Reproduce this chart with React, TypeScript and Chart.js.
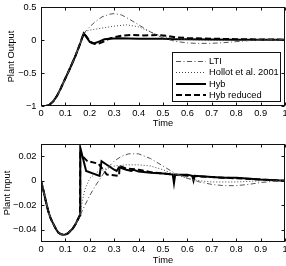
import React, { useEffect, useRef } from 'react';
import { Chart, registerables } from 'chart.js';

Chart.register(...registerables);

// ---- tick values & labels ----
const X_TICKS = [0, 0.1, 0.2, 0.3, 0.4, 0.5, 0.6, 0.7, 0.8, 0.9, 1];
const X_TICK_LABELS = ['0', '0.1', '0.2', '0.3', '0.4', '0.5', '0.6', '0.7', '0.8', '0.9', '1'];
const OUT_TICKS = [-1, -0.5, 0, 0.5];
const OUT_TICK_LABELS = ['\u22121', '\u22120.5', '0', '0.5'];
const IN_TICKS = [-0.04, -0.02, 0, 0.02];
const IN_TICK_LABELS = ['\u22120.04', '\u22120.02', '0', '0.02'];

const SERIES_NAMES = ['LTI', 'Hollot et al. 2001', 'Hyb', 'Hyb reduced'];

// ---- Plant output: shared start (all controllers identical) ----
const T_OUT_START = [0, 0.02, 0.035, 0.05, 0.065, 0.08, 0.1, 0.12, 0.14, 0.16, 0.175];
const OUT_START = [-1, -1, -0.98, -0.93, -0.85, -0.74, -0.58, -0.42, -0.25, -0.06, 0.1];

const T_OUT_LTI = [0.2, 0.22, 0.25, 0.28, 0.3, 0.33, 0.36, 0.4, 0.45, 0.5, 0.55, 0.6, 0.65, 0.7, 0.75, 0.8, 0.85, 0.9, 1];
const OUT_LTI = [0.2, 0.27, 0.35, 0.39, 0.4, 0.38, 0.32, 0.23, 0.12, 0.03, -0.02, -0.045, -0.052, -0.05, -0.04, -0.025, -0.01, 0, 0.004];

const T_OUT_HOLLOT = [0.19, 0.2, 0.25, 0.3, 0.35, 0.4, 0.45, 0.5, 0.55, 0.6, 0.7, 0.8, 0.9, 1];
const OUT_HOLLOT = [0.14, 0.15, 0.18, 0.21, 0.23, 0.2, 0.12, 0.05, 0.02, 0.005, -0.008, -0.008, 0, 0];

const T_OUT_HYB = [0.185, 0.2, 0.21, 0.22, 0.24, 0.26, 0.28, 0.32, 0.4, 0.5, 0.55, 0.6, 0.7, 0.8, 0.9, 1];
const OUT_HYB = [0.05, -0.03, -0.05, -0.05, -0.02, 0.01, 0.02, 0.025, 0.02, 0.02, 0.012, 0.01, 0.008, 0.005, 0.003, 0.002];

const T_OUT_HYBRED = [0.185, 0.2, 0.22, 0.24, 0.26, 0.28, 0.3, 0.33, 0.37, 0.42, 0.48, 0.52, 0.55, 0.6, 0.7, 0.8, 0.9, 1];
const OUT_HYBRED = [0.06, -0.02, -0.06, -0.05, -0.02, 0.02, 0.04, 0.065, 0.075, 0.07, 0.075, 0.06, 0.04, 0.03, 0.02, 0.012, 0.008, 0.005];

// ---- Plant input: shared start ----
const T_IN_START = [0, 0.01, 0.02, 0.03, 0.04, 0.05, 0.06, 0.07, 0.08, 0.09, 0.1, 0.11, 0.12, 0.13, 0.14, 0.15, 0.16];
const IN_START = [0, -0.008, -0.017, -0.025, -0.031, -0.035, -0.039, -0.042, -0.0435, -0.044, -0.0438, -0.043, -0.041, -0.039, -0.036, -0.032, -0.028];

const T_IN_LTI = [0.18, 0.2, 0.22, 0.24, 0.26, 0.28, 0.3, 0.33, 0.36, 0.4, 0.45, 0.5, 0.55, 0.6, 0.65, 0.7, 0.75, 0.8, 0.85, 0.9, 0.95, 1];
const IN_LTI = [-0.02, -0.012, -0.005, 0.001, 0.007, 0.012, 0.016, 0.02, 0.022, 0.022, 0.018, 0.012, 0.006, 0.002, -0.001, -0.003, -0.004, -0.004, -0.003, -0.0015, -0.0005, 0];

const T_IN_HOLLOT = [0.17, 0.18, 0.2, 0.23, 0.27, 0.3, 0.35, 0.4, 0.45, 0.5, 0.55, 0.6, 0.65, 0.7, 0.8, 0.9, 1];
const IN_HOLLOT = [-0.016, -0.007, 0.002, 0.007, 0.01, 0.012, 0.013, 0.013, 0.012, 0.009, 0.005, 0.002, 0, -0.001, -0.001, 0, 0];

const T_IN_HYB = [0.161, 0.175, 0.185, 0.24, 0.248, 0.3, 0.31, 0.32, 0.35, 0.37, 0.38, 0.4, 0.45, 0.5, 0.54, 0.545, 0.55, 0.6, 0.62, 0.625, 0.63, 0.7, 0.75, 0.8, 0.9, 1];
const IN_HYB = [0.027, 0.016, 0.008, 0.004, 0.016, 0.009, 0.008, 0.011, 0.009, 0.008, 0.009, 0.0075, 0.0065, 0.006, 0.005, -0.002, 0.005, 0.005, 0.004, 0, 0.004, 0.003, 0.0025, 0.0025, 0.001, 0];

const T_IN_HYBRED = [0.161, 0.17, 0.19, 0.235, 0.27, 0.32, 0.322, 0.35, 0.4, 0.45, 0.5, 0.55, 0.6, 0.7, 0.8, 0.9, 1];
const IN_HYBRED = [0.022, 0.02, 0.016, 0.014, 0.005, 0.004, 0.012, 0.01, 0.009, 0.007, 0.006, 0.005, 0.004, 0.003, 0.002, 0.001, 0];

const zip = (ts: number[], ys: number[]) => ts.map((t, i) => ({ x: t, y: ys[i] }));

const FONT = 'Liberation Sans, Arial, Helvetica, sans-serif';
const FS = 9.3;

const STYLES = [
  { borderColor: '#555', borderWidth: 1, borderDash: [5, 2.5, 1, 2.5] },
  { borderColor: '#444', borderWidth: 1, borderDash: [1, 2] },
  { borderColor: '#000', borderWidth: 2, borderDash: [] as number[] },
  { borderColor: '#000', borderWidth: 2, borderDash: [6, 3] },
];

const framePlugin = {
  id: 'frame',
  afterDatasetsDraw(chart: any) {
    const { ctx, chartArea: a, scales } = chart;
    ctx.save();
    ctx.strokeStyle = '#111';
    ctx.lineWidth = 1;
    ctx.setLineDash([]);
    const L = Math.round(a.left) + 0.5;
    const R = Math.round(a.right) - 0.5;
    const T = Math.round(a.top) + 0.5;
    const B = Math.round(a.bottom) - 0.5;
    ctx.strokeRect(L, T, R - L, B - T);
    const tl = 3;
    ctx.beginPath();
    for (const t of scales.x.ticks) {
      const x = Math.round(scales.x.getPixelForValue(t.value)) + 0.5;
      ctx.moveTo(x, B); ctx.lineTo(x, B - tl);
      ctx.moveTo(x, T); ctx.lineTo(x, T + tl);
    }
    for (const t of scales.y.ticks) {
      const y = Math.round(scales.y.getPixelForValue(t.value)) + 0.5;
      ctx.moveTo(L, y); ctx.lineTo(L + tl, y);
      ctx.moveTo(R, y); ctx.lineTo(R - tl, y);
    }
    ctx.stroke();
    ctx.restore();
  },
};

const legendPlugin = {
  id: 'boxLegend',
  afterDraw(chart: any) {
    const { ctx, chartArea: a } = chart;
    const w = 108, h = 49;
    const right = Math.round(a.right) - 5;
    const bottom = Math.round(a.bottom) - 5;
    const left = right - w;
    const top = bottom - h;
    ctx.save();
    ctx.fillStyle = '#fff';
    ctx.fillRect(left, top, w, h);
    ctx.strokeStyle = '#111';
    ctx.lineWidth = 1;
    ctx.setLineDash([]);
    ctx.strokeRect(left + 0.5, top + 0.5, w, h);
    ctx.font = `${FS}px ${FONT}`;
    ctx.textBaseline = 'middle';
    ctx.textAlign = 'left';
    SERIES_NAMES.forEach((name, i) => {
      const y = top + 8.5 + i * 11.5;
      const st = STYLES[i];
      ctx.beginPath();
      ctx.strokeStyle = st.borderColor;
      ctx.lineWidth = st.borderWidth;
      ctx.setLineDash(st.borderDash);
      ctx.moveTo(left + 4, Math.round(y) + (st.borderWidth === 1 ? 0.5 : 0));
      ctx.lineTo(left + 34, Math.round(y) + (st.borderWidth === 1 ? 0.5 : 0));
      ctx.stroke();
      ctx.setLineDash([]);
      ctx.fillStyle = '#000';
      ctx.fillText(name, left + 37, y + 0.5);
    });
    ctx.restore();
  },
};

function makeConfig(
  datasets: { x: number; y: number }[][],
  yMin: number,
  yMax: number,
  yTicks: number[],
  yLabels: string[],
  yTitle: string,
  padTop: number,
  xHeight: number,
  yTitlePad: number,
  xTitlePad: number,
  withLegend: boolean
): any {
  return {
    type: 'line',
    data: {
      datasets: datasets.map((d, i) => ({
        label: SERIES_NAMES[i],
        data: d,
        ...STYLES[i],
        pointRadius: 0,
        pointHoverRadius: 0,
        tension: 0,
        fill: false,
      })),
    },
    options: {
      animation: false,
      responsive: false,
      devicePixelRatio: 1,
      events: [],
      layout: { padding: { top: padTop, right: 1, bottom: 0, left: 0 } },
      plugins: { legend: { display: false }, tooltip: { enabled: false } },
      scales: {
        x: {
          type: 'linear',
          min: 0,
          max: 1,
          grid: { display: false, drawTicks: false },
          border: { display: false },
          afterBuildTicks: (s: any) => { s.ticks = X_TICKS.map((v) => ({ value: v })); },
          afterFit: (s: any) => { s.height = xHeight; s.paddingLeft = 0; s.paddingRight = 0; },
          ticks: {
            autoSkip: false,
            maxRotation: 0,
            padding: 2,
            color: '#000',
            font: { family: FONT, size: FS },
            callback: (_v: any, i: number) => X_TICK_LABELS[i],
          },
          title: {
            display: true,
            text: 'Time',
            color: '#000',
            font: { family: FONT, size: FS },
            padding: { top: 0, bottom: xTitlePad },
          },
        },
        y: {
          type: 'linear',
          min: yMin,
          max: yMax,
          grid: { display: false, drawTicks: false },
          border: { display: false },
          afterBuildTicks: (s: any) => { s.ticks = yTicks.map((v) => ({ value: v })); },
          afterFit: (s: any) => { s.width = 41; s.paddingTop = 0; s.paddingBottom = 0; },
          ticks: {
            autoSkip: false,
            padding: 4.5,
            color: '#000',
            font: { family: FONT, size: FS },
            callback: (_v: any, i: number) => yLabels[i],
          },
          title: {
            display: true,
            text: yTitle,
            color: '#000',
            font: { family: FONT, size: FS },
            padding: { top: yTitlePad, bottom: 0 },
          },
        },
      },
    },
    plugins: withLegend ? [framePlugin, legendPlugin] : [framePlugin],
  };
}

export default function App() {
  const topRef = useRef<HTMLCanvasElement>(null);
  const botRef = useRef<HTMLCanvasElement>(null);

  useEffect(() => {
    const outData = [
      [...zip(T_OUT_START, OUT_START), ...zip(T_OUT_LTI, OUT_LTI)],
      [...zip(T_OUT_START, OUT_START), ...zip(T_OUT_HOLLOT, OUT_HOLLOT)],
      [...zip(T_OUT_START, OUT_START), ...zip(T_OUT_HYB, OUT_HYB)],
      [...zip(T_OUT_START, OUT_START), ...zip(T_OUT_HYBRED, OUT_HYBRED)],
    ];
    const inData = [
      [...zip(T_IN_START, IN_START), ...zip(T_IN_LTI, IN_LTI)],
      [...zip(T_IN_START, IN_START), ...zip(T_IN_HOLLOT, IN_HOLLOT)],
      [...zip(T_IN_START, IN_START), ...zip(T_IN_HYB, IN_HYB)],
      [...zip(T_IN_START, IN_START), ...zip(T_IN_HYBRED, IN_HYBRED)],
    ];
    const c1 = new Chart(topRef.current as HTMLCanvasElement,
      makeConfig(outData, -1, 0.5, OUT_TICKS, OUT_TICK_LABELS, 'Plant Output', 7, 27, 5.4, 4.4, true));
    const c2 = new Chart(botRef.current as HTMLCanvasElement,
      makeConfig(inData, -0.05, 0.03, IN_TICKS, IN_TICK_LABELS, 'Plant Input', 11, 24, 1.4, 0, false));
    return () => { c1.destroy(); c2.destroy(); };
  }, []);

  return (
    <div style={{ position: 'fixed', left: 0, top: 0, width: 286, height: 266, background: '#fff' }}>
      <canvas ref={topRef} width={286} height={133} style={{ display: 'block', width: 286, height: 133 }} />
      <canvas ref={botRef} width={286} height={133} style={{ display: 'block', width: 286, height: 133 }} />
    </div>
  );
}
